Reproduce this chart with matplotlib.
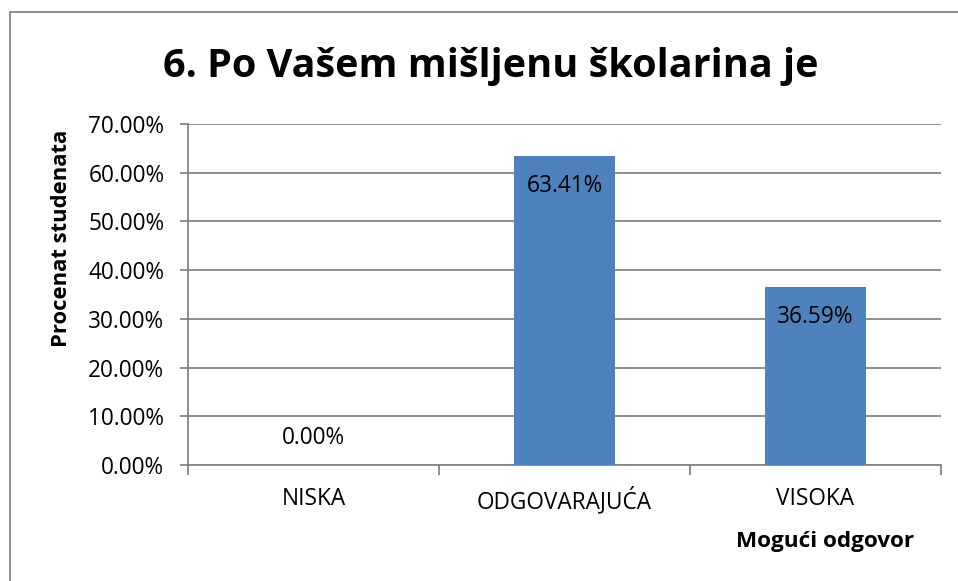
import matplotlib
matplotlib.use("Agg")
import matplotlib.pyplot as plt
from matplotlib.patches import Rectangle
from matplotlib.ticker import FuncFormatter, MultipleLocator

categories = ["NISKA", "ODGOVARAJUĆA", "VISOKA"]
values = [0.00, 63.41, 36.59]
labels = ["0.00%", "63.41%", "36.59%"]

plt.rcParams['font.family'] = ['Open Sans', 'DejaVu Sans']

fig = plt.figure(figsize=(9.58, 5.81), dpi=100)
W, H = 958, 581
ax = fig.add_axes([188 / W, 1 - 465 / H, (941 - 188) / W, (465 - 124) / H])

bar_color = "#4F81BD"
x = range(len(categories))
ax.bar(x, values, width=0.4, color=bar_color, zorder=3)

ax.set_xlim(-0.5, 2.5)
ax.set_ylim(0, 70)
ax.yaxis.set_major_locator(MultipleLocator(10))
ax.yaxis.set_major_formatter(FuncFormatter(lambda v, p: f"{v:.2f}%"))
ax.grid(axis="y", color="#868686", linewidth=1.3, zorder=0)
ax.set_axisbelow(True)

for s in ["top", "right"]:
    ax.spines[s].set_visible(False)
for s in ["left", "bottom"]:
    ax.spines[s].set_color("#868686")
    ax.spines[s].set_linewidth(1.3)

fs = 16.3
ax.set_xticks(x)
ax.set_xticklabels(categories)
ax.set_xticks([-0.5, 0.5, 1.5, 2.5], minor=True)
ax.tick_params(axis="x", which="major", length=0, pad=16, labelsize=fs)
ax.tick_params(axis="x", which="minor", length=7, color="#868686", width=1.3)
ax.tick_params(axis="y", length=6, color="#868686", width=1.3, labelsize=fs, pad=11)

for i, (v, lab) in enumerate(zip(values, labels)):
    off = -30 if v > 5 else 27
    ax.annotate(lab, (i, v), xytext=(0, off), textcoords="offset pixels",
                ha="center", va="center", fontsize=fs, color="black", zorder=4)

fig.text(491 / W, 1 - 66 / H, "6. Po Vašem mišljenu školarina je", ha="center", va="center",
         fontsize=28.5, fontweight="bold")
fig.text(62 / W, 1 - 238 / H, "Procenat studenata", rotation=90, ha="center", va="center",
         fontsize=15.8, fontweight="bold")
fig.text(825 / W, 1 - 542 / H, "Mogući odgovor", ha="center", va="center",
         fontsize=16.2, fontweight="bold")

fig.patches.append(Rectangle((10 / W, -0.1), 1.2, 1 - 12 / H + 0.1, transform=fig.transFigure,
                             fill=False, edgecolor="#868686", linewidth=1.3))

fig.savefig("out.png", dpi=100)
